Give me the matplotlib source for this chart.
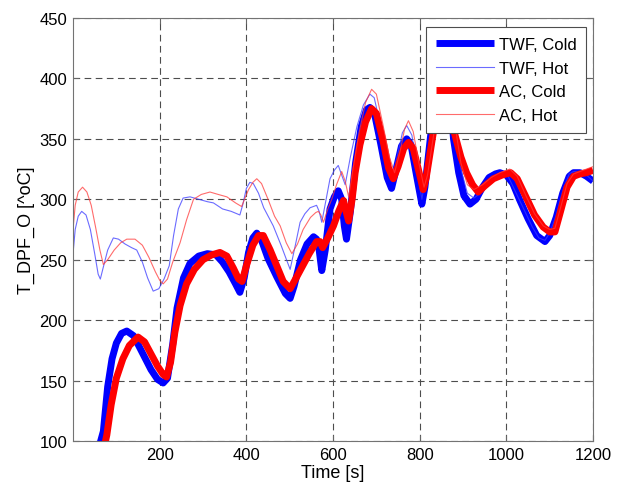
"""DPF outlet temperature: TWF vs AC, cold and hot start."""

import matplotlib

matplotlib.use("Agg")
import matplotlib.pyplot as plt

plt.rcParams["font.family"] = ["Liberation Sans", "DejaVu Sans"]

# --- data (time [s], temperature [degC]) ---
TWF_COLD_T = [60, 70, 80, 90, 100, 112, 124, 140, 160, 180, 195, 208, 218, 230, 240, 255,
              270, 290, 310, 330, 345, 360, 375, 385, 395, 405, 415, 424, 435, 450, 470,
              490, 501, 510, 525, 540, 555, 562, 568, 574, 582, 593, 603, 612, 620, 626,
              631, 640, 652, 665, 677, 685, 695, 710, 725, 735, 745, 758, 770, 780, 792,
              805, 812, 825, 840, 855, 868, 878, 890, 902, 916, 930, 945, 960, 975, 985,
              1000, 1015, 1030, 1050, 1070, 1089, 1100, 1115, 1130, 1145, 1155, 1170,
              1185, 1200]
TWF_COLD_V = [95, 108, 145, 168, 181, 189, 191, 187, 173, 159, 151, 148, 152, 180, 210, 235,
              247, 253, 255, 254, 248, 240, 230, 223, 235, 256, 268, 272, 266, 251, 236,
              222, 218, 228, 250, 263, 269, 267, 258, 241, 258, 292, 302, 307, 300, 278,
              267, 290, 330, 360, 374, 376, 372, 346, 318, 309, 324, 344, 350, 345, 321,
              296, 310, 352, 390, 405, 395, 350, 322, 303, 296, 300, 310, 318, 321, 322,
              320, 313, 300, 284, 270, 265, 270, 285, 305, 319, 322, 322, 319, 315]

TWF_HOT_T = [0, 5, 12, 20, 30, 40, 50, 58, 63, 70, 80, 93, 105, 120, 135, 147, 160, 172,
             185, 198, 210, 222, 232, 243, 254, 270, 290, 310, 324, 345, 365, 385, 392,
             400, 408, 416, 428, 440, 462, 480, 501, 513, 524, 535, 547, 562, 568, 574,
             583, 593, 603, 612, 620, 628, 640, 655, 670, 685, 695, 710, 725, 735, 748,
             760, 770, 782, 795, 805, 812, 825, 850, 880, 895, 910, 925, 940, 955, 970,
             985, 1000, 1020, 1040, 1060, 1075, 1089, 1100, 1115, 1130, 1145, 1155,
             1170, 1185, 1200]
TWF_HOT_V = [255, 275, 286, 290, 287, 275, 255, 238, 234, 244, 258, 268, 267, 263, 260,
             258, 248, 235, 224, 226, 234, 245, 270, 292, 301, 302, 300, 298, 297, 292,
             290, 287, 296, 309, 314, 313, 305, 293, 278, 262, 242, 262, 281, 288, 293,
             295, 290, 281, 298, 317, 324, 328, 320, 312, 335, 360, 378, 387, 384, 360,
             330, 317, 335, 355, 361, 353, 322, 300, 315, 355, 405, 358, 325, 305, 301,
             305, 312, 318, 322, 322, 307, 292, 277, 268, 266, 272, 287, 307, 321, 323,
             323, 320, 315]

AC_COLD_T = [72, 78, 88, 100, 115, 130, 150, 165, 180, 195, 208, 216, 225, 235, 247, 262,
             280, 300, 320, 339, 355, 370, 382, 390, 400, 415, 428, 439, 455, 470, 485,
             501, 515, 530, 545, 562, 570, 576, 588, 601, 613, 624, 630, 636, 644, 651,
             662, 675, 689, 700, 715, 728, 739, 750, 763, 774, 785, 796, 808, 815, 830,
             850, 868, 880, 895, 908, 922, 935, 950, 970, 990, 1010, 1025, 1045, 1065,
             1085, 1100, 1112, 1125, 1140, 1155, 1170, 1185, 1200]
AC_COLD_V = [95, 105, 130, 152, 168, 179, 186, 182, 172, 162, 155, 153, 165, 190, 212, 230,
             242, 250, 254, 256, 253, 243, 234, 232, 245, 262, 270, 270, 258, 245, 232,
             226, 235, 245, 255, 265, 265, 260, 268, 278, 290, 299, 290, 282, 300, 322,
             345, 364, 375, 371, 349, 326, 317, 327, 342, 347, 342, 326, 308, 318, 352,
             395, 405, 355, 335, 322, 312, 306, 311, 317, 320, 322, 317, 302, 287, 277,
             273, 273, 290, 310, 319, 321, 322, 324]

AC_HOT_T = [0, 5, 12, 22, 32, 42, 52, 62, 70, 80, 95, 110, 124, 143, 160, 175, 190, 200,
            208, 218, 230, 247, 262, 278, 296, 316, 335, 355, 375, 389, 398, 405, 415,
            424, 435, 450, 465, 478, 492, 505, 518, 531, 548, 560, 566, 572, 578, 588,
            597, 608, 620, 628, 636, 646, 660, 675, 689, 700, 715, 730, 742, 755, 765,
            774, 785, 798, 810, 818, 835, 860, 882, 895, 910, 925, 945, 965, 985, 1008,
            1025, 1045, 1065, 1085, 1100, 1112, 1125, 1140, 1155, 1170, 1185, 1200]
AC_HOT_V = [275, 295, 306, 310, 306, 295, 277, 258, 246, 250, 258, 264, 267, 267, 262, 252,
            240, 233, 230, 234, 248, 264, 283, 300, 304, 306, 304, 302, 297, 294, 302,
            308, 314, 317, 313, 300, 286, 278, 264, 255, 263, 275, 285, 289, 290, 287,
            281, 292, 300, 312, 323, 315, 302, 325, 355, 380, 391, 387, 362, 335, 322,
            340, 358, 365, 356, 330, 310, 320, 360, 405, 360, 330, 312, 308, 312, 318,
            322, 325, 319, 303, 288, 278, 275, 276, 293, 313, 321, 323, 325, 327]

X_TICKS = [200, 400, 600, 800, 1000, 1200]
Y_TICKS = [100, 150, 200, 250, 300, 350, 400, 450]


def main() -> None:
    fig = plt.figure(figsize=(6.21, 4.89), dpi=100)
    ax = fig.add_axes([0.1176, 0.0961, 0.8374, 0.8651])

    ax.plot(TWF_COLD_T, TWF_COLD_V, color="#0000ff", lw=5,
            solid_joinstyle="round", solid_capstyle="butt", label="TWF, Cold")
    ax.plot(TWF_HOT_T, TWF_HOT_V, color="#3a3aff", lw=0.8, alpha=0.75,
            label="TWF, Hot")
    ax.plot(AC_COLD_T, AC_COLD_V, color="#ff0000", lw=5,
            solid_joinstyle="round", solid_capstyle="butt", label="AC, Cold")
    ax.plot(AC_HOT_T, AC_HOT_V, color="#ff3a3a", lw=0.8, alpha=0.75,
            label="AC, Hot")

    ax.set_xlim(0, 1200)
    ax.set_ylim(100, 450)
    ax.set_xticks(X_TICKS)
    ax.set_yticks(Y_TICKS)
    ax.tick_params(direction="in", top=True, right=True, labelsize=12,
                   length=4, color="0.4", pad=4)
    for spine in ax.spines.values():
        spine.set_color("0.45")
        spine.set_linewidth(0.8)

    ax.grid(True, color="0.3", linestyle=(0, (6, 4)), linewidth=0.8)
    ax.set_axisbelow(True)

    ax.set_xlabel("Time [s]", fontsize=13, labelpad=2)
    ax.set_ylabel("T_DPF_O [^oC]", fontsize=13, labelpad=3)

    leg = ax.legend(loc="upper right", bbox_to_anchor=(0.987, 0.979),
                    borderaxespad=0, fontsize=12, fancybox=False,
                    framealpha=1, edgecolor="0.3", handlelength=3.5,
                    labelspacing=0.52, borderpad=0.6, handletextpad=0.25)
    leg.get_frame().set_linewidth(0.8)

    fig.savefig("out.png", dpi=100)
    plt.close(fig)


if __name__ == "__main__":
    main()
